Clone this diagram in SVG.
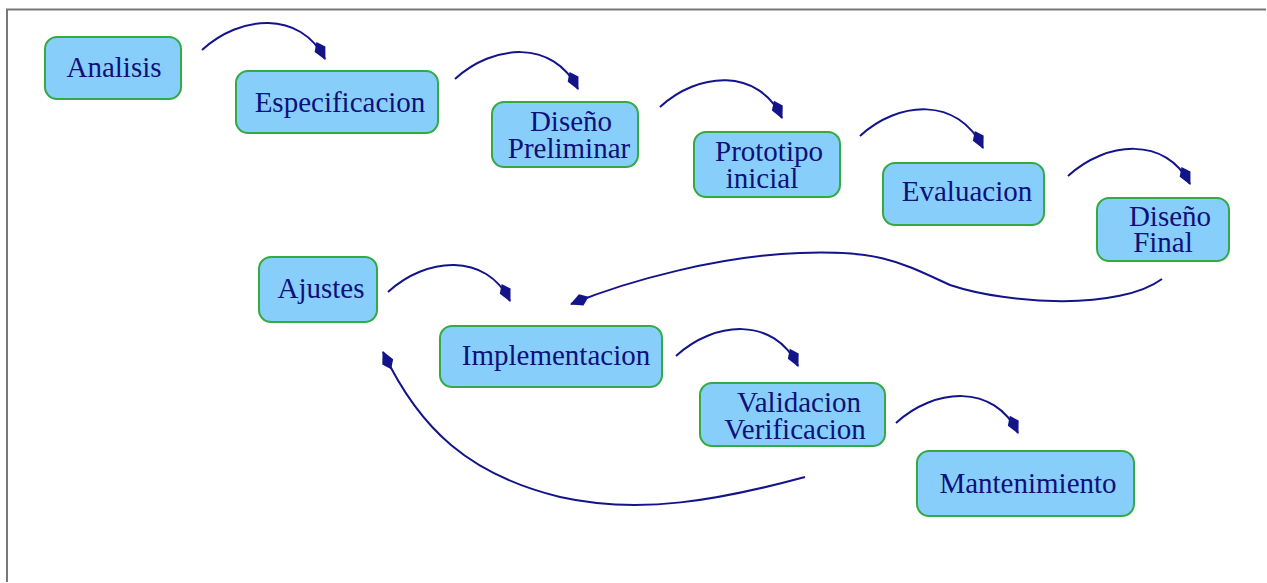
<svg xmlns="http://www.w3.org/2000/svg" width="1267" height="583" viewBox="0 0 1267 583">
<defs>
<marker id="ah" markerUnits="userSpaceOnUse" markerWidth="26" markerHeight="16" refX="0" refY="0" viewBox="-22 -8 26 16" orient="auto">
<path d="M1,0 L-11,-6 L-19,0 L-11,6 Z" fill="#14148a"/>
</marker>
</defs>
<rect x="0" y="0" width="1267" height="583" fill="#fff"/>
<path d="M7,582 V9.5 H1266" fill="none" stroke="#777" stroke-width="2"/>
<g id="connectors" fill="none" stroke="#14148a" stroke-width="2" marker-end="url(#ah)">
<path d="M202,50 C240,15 300,10 325,59"/>
<path d="M455,79 C493,44 553,39 578,89"/>
<path d="M660,107 C698,72 758,67 782,118"/>
<path d="M860,136 C898,101 958,96 983,148"/>
<path d="M1068,176 C1106,141 1166,136 1190,184"/>
<path d="M1162,279 C1120,310 1010,305 950,285 C900,262 880,250 800,253 C720,256 630,280 571,304"/>
<path d="M388,292 C426,257 486,252 510,301"/>
<path d="M676,356 C714,321 774,316 798,366"/>
<path d="M896,423 C934,388 994,383 1018,433"/>
<path d="M805,477 C720,500 640,515 560,497 C470,475 420,430 383,352"/>
</g>
<g id="n-analisis"><rect fill="#87cefa" stroke="#33aa44" stroke-width="2" x="45" y="37" width="136" height="62" rx="12"/><text font-family="Liberation Serif" font-size="29" fill="#10107a" text-anchor="middle" x="114" y="77">Analisis</text></g>
<g id="n-especificacion"><rect fill="#87cefa" stroke="#33aa44" stroke-width="2" x="236" y="71" width="202" height="62" rx="12"/><text font-family="Liberation Serif" font-size="29" fill="#10107a" text-anchor="middle" x="340" y="112">Especificacion</text></g>
<g id="n-diseno-preliminar"><rect fill="#87cefa" stroke="#33aa44" stroke-width="2" x="492" y="102" width="146" height="65" rx="12"/><text font-family="Liberation Serif" font-size="29" fill="#10107a" text-anchor="middle" x="571" y="131">Diseño</text><text font-family="Liberation Serif" font-size="29" fill="#10107a" text-anchor="middle" x="569" y="158">Preliminar</text></g>
<g id="n-prototipo"><rect fill="#87cefa" stroke="#33aa44" stroke-width="2" x="694" y="132" width="146" height="65" rx="12"/><text font-family="Liberation Serif" font-size="29" fill="#10107a" text-anchor="middle" x="769" y="161">Prototipo</text><text font-family="Liberation Serif" font-size="29" fill="#10107a" text-anchor="middle" x="762" y="188">inicial</text></g>
<g id="n-evaluacion"><rect fill="#87cefa" stroke="#33aa44" stroke-width="2" x="883" y="163" width="161" height="62" rx="12"/><text font-family="Liberation Serif" font-size="29" fill="#10107a" text-anchor="middle" x="967" y="201">Evaluacion</text></g>
<g id="n-diseno-final"><rect fill="#87cefa" stroke="#33aa44" stroke-width="2" x="1097" y="198" width="132" height="63" rx="12"/><text font-family="Liberation Serif" font-size="29" fill="#10107a" text-anchor="middle" x="1170" y="226">Diseño</text><text font-family="Liberation Serif" font-size="29" fill="#10107a" text-anchor="middle" x="1163" y="252">Final</text></g>
<g id="n-ajustes"><rect fill="#87cefa" stroke="#33aa44" stroke-width="2" x="259" y="257" width="118" height="65" rx="12"/><text font-family="Liberation Serif" font-size="29" fill="#10107a" text-anchor="middle" x="321" y="298">Ajustes</text></g>
<g id="n-implementacion"><rect fill="#87cefa" stroke="#33aa44" stroke-width="2" x="440" y="326" width="222" height="61" rx="12"/><text font-family="Liberation Serif" font-size="29" fill="#10107a" text-anchor="middle" x="556" y="365">Implementacion</text></g>
<g id="n-validacion"><rect fill="#87cefa" stroke="#33aa44" stroke-width="2" x="700" y="383" width="185" height="63" rx="12"/><text font-family="Liberation Serif" font-size="29" fill="#10107a" text-anchor="middle" x="799" y="412">Validacion</text><text font-family="Liberation Serif" font-size="29" fill="#10107a" text-anchor="middle" x="795" y="439">Verificacion</text></g>
<g id="n-mantenimiento"><rect fill="#87cefa" stroke="#33aa44" stroke-width="2" x="917" y="451" width="217" height="65" rx="12"/><text font-family="Liberation Serif" font-size="29" fill="#10107a" text-anchor="middle" x="1028" y="493">Mantenimiento</text></g>
</svg>
